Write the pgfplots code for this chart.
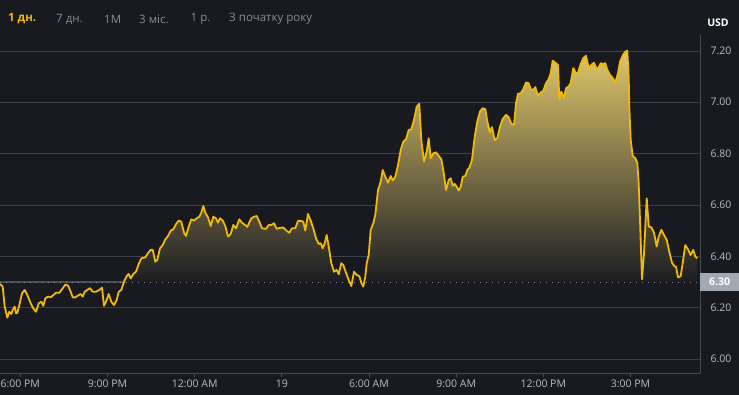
\documentclass[border=0pt]{standalone}
\usepackage{pgfplots}
\pgfplotsset{compat=1.18}
\usepackage{pgfplotstable}
\usepackage{fontspec}
\setmainfont{Open Sans}
\definecolor{bg}{HTML}{181A20}
\definecolor{gridc}{HTML}{3D424A}
\definecolor{axc}{HTML}{474D57}
\definecolor{lbl}{HTML}{B7BDC6}
\definecolor{tabg}{HTML}{848E9C}
\definecolor{ylw}{HTML}{F0B90B}
\definecolor{topf}{HTML}{DFC76C}
\definecolor{midf}{HTML}{9A8B50}
\definecolor{botf}{HTML}{1C1D22}
\definecolor{band}{HTML}{4A4C53}
\definecolor{boxc}{HTML}{A3A9B2}

\pgfplotstableread{
t v
-0.699 6.292
-0.606 6.282
-0.537 6.204
-0.447 6.161
-0.379 6.184
-0.310 6.175
-0.262 6.191
-0.193 6.204
-0.148 6.178
-0.103 6.180
-0.034 6.210
0.059 6.256
0.151 6.269
0.241 6.249
0.358 6.217
0.447 6.197
0.540 6.184
0.633 6.217
0.723 6.223
0.791 6.207
0.860 6.236
0.953 6.243
1.046 6.240
1.136 6.249
1.228 6.258
1.342 6.258
1.459 6.275
1.549 6.290
1.641 6.286
1.734 6.262
1.803 6.240
1.893 6.240
2.010 6.249
2.078 6.253
2.147 6.243
2.216 6.262
2.306 6.269
2.398 6.276
2.491 6.262
2.605 6.262
2.719 6.269
2.811 6.278
2.880 6.207
2.973 6.230
3.042 6.253
3.131 6.223
3.224 6.210
3.317 6.230
3.386 6.262
3.476 6.269
3.568 6.301
3.661 6.323
3.730 6.331
3.799 6.314
3.889 6.331
3.981 6.340
4.074 6.370
4.164 6.392
4.301 6.396
4.394 6.412
4.487 6.425
4.556 6.425
4.646 6.379
4.714 6.386
4.807 6.431
4.900 6.444
4.990 6.466
5.083 6.479
5.176 6.500
5.265 6.505
5.358 6.525
5.451 6.539
5.540 6.535
5.633 6.492
5.702 6.479
5.795 6.515
5.884 6.544
5.977 6.539
6.070 6.548
6.160 6.554
6.229 6.570
6.297 6.596
6.366 6.570
6.459 6.552
6.552 6.518
6.641 6.554
6.734 6.548
6.803 6.531
6.872 6.548
6.965 6.539
7.054 6.518
7.147 6.477
7.240 6.487
7.330 6.522
7.423 6.509
7.536 6.544
7.629 6.531
7.722 6.523
7.812 6.515
7.949 6.548
8.042 6.554
8.135 6.557
8.224 6.535
8.317 6.509
8.455 6.507
8.548 6.522
8.637 6.522
8.730 6.529
8.823 6.507
8.937 6.511
9.050 6.512
9.167 6.499
9.257 6.492
9.350 6.509
9.463 6.509
9.556 6.538
9.649 6.538
9.739 6.535
9.808 6.500
9.900 6.565
9.993 6.539
10.083 6.509
10.176 6.470
10.269 6.448
10.337 6.451
10.406 6.431
10.475 6.451
10.544 6.483
10.613 6.438
10.702 6.373
10.795 6.340
10.888 6.347
10.957 6.330
11.046 6.373
11.115 6.366
11.208 6.336
11.301 6.308
11.391 6.284
11.484 6.340
11.576 6.327
11.666 6.323
11.735 6.297
11.803 6.282
11.872 6.321
11.920 6.373
11.989 6.405
12.058 6.503
12.147 6.529
12.216 6.561
12.309 6.658
12.402 6.691
12.471 6.736
12.560 6.710
12.653 6.687
12.746 6.713
12.815 6.695
12.905 6.710
12.998 6.756
13.090 6.814
13.180 6.847
13.273 6.856
13.366 6.892
13.455 6.895
13.548 6.931
13.641 6.983
13.730 6.994
13.799 6.853
13.892 6.769
13.985 6.808
14.054 6.860
14.123 6.782
14.212 6.801
14.305 6.805
14.398 6.791
14.487 6.778
14.556 6.736
14.649 6.658
14.742 6.697
14.811 6.704
14.880 6.675
14.949 6.682
15.017 6.671
15.086 6.656
15.155 6.671
15.224 6.710
15.313 6.713
15.382 6.736
15.451 6.745
15.544 6.775
15.637 6.866
15.726 6.925
15.819 6.964
15.912 6.977
16.002 6.973
16.071 6.925
16.163 6.882
16.232 6.903
16.325 6.853
16.415 6.860
16.507 6.905
16.600 6.935
16.714 6.951
16.807 6.942
16.896 6.916
16.989 6.912
17.058 6.996
17.127 7.033
17.220 7.035
17.309 7.051
17.402 7.077
17.495 7.074
17.564 7.051
17.653 7.048
17.722 7.059
17.815 7.025
17.908 7.038
17.998 7.045
18.090 7.074
18.183 7.090
18.252 7.113
18.321 7.162
18.410 7.154
18.503 7.145
18.548 7.012
18.617 7.041
18.710 7.016
18.779 7.055
18.871 7.061
18.940 7.076
19.030 7.133
19.123 7.113
19.191 7.115
19.284 7.149
19.374 7.172
19.467 7.181
19.560 7.133
19.649 7.145
19.742 7.154
19.835 7.129
19.904 7.136
19.973 7.152
20.062 7.149
20.131 7.152
20.200 7.126
20.293 7.107
20.386 7.094
20.475 7.077
20.568 7.113
20.637 7.158
20.750 7.186
20.819 7.197
20.888 7.201
20.936 7.100
20.957 6.983
21.005 6.853
21.074 6.791
21.163 6.782
21.232 6.765
21.280 6.685
21.325 6.542
21.394 6.311
21.463 6.412
21.556 6.626
21.625 6.516
21.714 6.513
21.807 6.492
21.900 6.438
21.969 6.476
22.058 6.503
22.151 6.483
22.244 6.464
22.333 6.418
22.426 6.375
22.519 6.360
22.564 6.360
22.633 6.318
22.725 6.323
22.794 6.373
22.884 6.444
22.977 6.427
23.070 6.405
23.159 6.425
23.228 6.399
23.297 6.392
}\pricedata

\begin{document}
\begin{tikzpicture}
\fill[bg] (0,0) rectangle (739pt,395pt);
\useasboundingbox (0,0) rectangle (739pt,395pt);
\begin{axis}[
  at={(0pt,22pt)}, anchor=south west,
  scale only axis, width=700pt, height=338pt,
  xmin=-0.699, xmax=23.39, ymin=5.9455, ymax=7.262,
  clip mode=individual,
  axis x line*=bottom, axis y line*=right,
  axis line style={draw=axc, line width=0.8pt},
  xtick={0,3,6,9,12,15,18,21},
  xticklabels={6:00 PM,9:00 PM,12:00 AM,19,6:00 AM,9:00 AM,12:00 PM,3:00 PM},
  ytick={6.00,6.20,6.40,6.60,6.80,7.00,7.20},
  /pgf/number format/fixed,
  /pgf/number format/fixed zerofill,
  /pgf/number format/precision=2,
  /pgf/number format/assume math mode=true,
  ymajorgrids, grid style={draw=gridc, line width=0.8pt},
  tick align=outside, major tick length=4pt,
  xtick style={draw=axc, line width=0.8pt},
  ytick style={draw=none},
  ticklabel style={font=\fontsize{10.5}{12}\selectfont, text=lbl},
  xticklabel style={yshift=1pt},
  yticklabel style={xshift=3pt},
]
\addplot[draw=none, top color=topf, middle color=midf, bottom color=botf, forget plot]
  table[x=t, y expr={max(\thisrow{v},6.3)}] {\pricedata}
  -- (axis cs:23.297,6.3) -- (axis cs:-0.699,6.3) -- cycle;
\addplot[band, line width=2.6pt, forget plot] coordinates {(-0.699,6.3) (3.56,6.3)};
\addplot[tabg, line width=0.9pt, dash pattern=on 1pt off 5pt, forget plot] coordinates {(-0.699,6.3) (23.39,6.3)};
\addplot[ylw, line width=1.8pt, line join=round, mark=none] table[x=t, y=v] {\pricedata};
\node[fill=boxc, text=white, anchor=west, minimum width=39pt, minimum height=18pt, inner sep=0pt,
  font=\bfseries\fontsize{10.5}{12}\selectfont] at (axis cs:23.39,6.3) {6.30};
\end{axis}
\begin{scope}[every node/.style={anchor=west, inner sep=0pt, font=\fontsize{11.5}{13}\selectfont, text=tabg}]
\node[text=ylw, font=\bfseries\fontsize{11.5}{13}\selectfont] at (8pt,376pt) {1 дн.};
\node at (56pt,376pt) {7 дн.};
\node at (104pt,376pt) {1M};
\node at (139pt,376pt) {3 міс.};
\node at (190.5pt,376pt) {1 р.};
\node at (229pt,376pt) {З початку року};
\end{scope}
\node[anchor=center, inner sep=0pt, text=white, font=\bfseries\fontsize{10.5}{12}\selectfont] at (718pt,372pt) {USD};
\end{tikzpicture}
\end{document}
